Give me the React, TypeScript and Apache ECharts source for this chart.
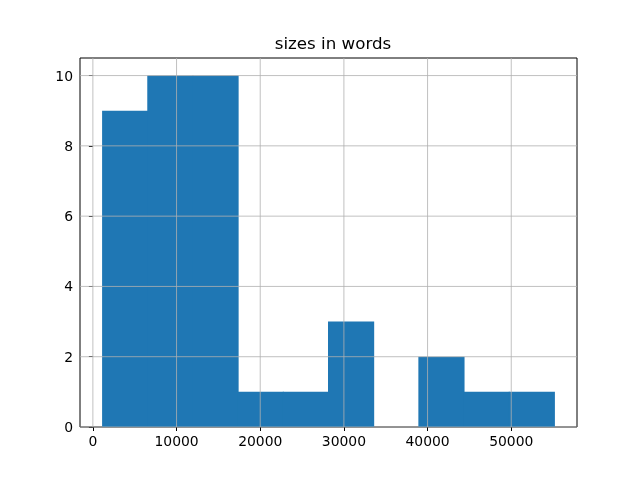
import React, { useEffect, useRef } from "react";
import * as echarts from "echarts";

const titleText = "sizes in words";
const binStart = 1160;
const binWidth = 5400;
const counts = [9, 10, 10, 1, 1, 3, 0, 2, 1, 1];
const xTicks = [0, 10000, 20000, 30000, 40000, 50000];
const yTicks = [0, 2, 4, 6, 8, 10];
const xMin = -1540;
const xMax = 57860;
const yMin = 0;
const yMax = 10.5;

export default function App() {
  const ref = useRef<HTMLDivElement>(null);
  useEffect(() => {
    if (!ref.current) return;
    const chart = echarts.init(ref.current, undefined, { renderer: "svg" });
    const barData = counts.map((c, i) => [binStart + i * binWidth, binStart + (i + 1) * binWidth, c]);
    const font = "DejaVu Sans";
    chart.setOption({
      animation: false,
      title: {
        text: titleText,
        left: 328,
        top: 29,
        textAlign: "center",
        textStyle: { fontFamily: font, fontSize: 16.7, fontWeight: "normal", color: "#000" },
      },
      grid: {
        left: 80,
        right: 63,
        top: 58,
        bottom: 53,
        show: true,
        borderColor: "#000",
        borderWidth: 1,
        backgroundColor: "transparent",
      },
      xAxis: {
        type: "value",
        min: xMin,
        max: xMax,
        axisLine: { show: false },
        splitLine: { show: false },
        axisTick: { show: true, length: 4, customValues: xTicks, lineStyle: { color: "#000", width: 1 } },
        axisLabel: {
          customValues: xTicks,
          margin: 7,
          fontFamily: font,
          fontSize: 13.9,
          color: "#000",
          formatter: (v: number) => String(v),
        },
      },
      yAxis: {
        type: "value",
        min: yMin,
        max: yMax,
        axisLine: { show: false },
        splitLine: { show: false },
        axisTick: { show: true, length: 4, customValues: yTicks, lineStyle: { color: "#000", width: 1 } },
        axisLabel: {
          customValues: yTicks,
          margin: 7,
          fontFamily: font,
          fontSize: 13.9,
          color: "#000",
          formatter: (v: number) => String(v),
        },
      },
      series: [
        {
          type: "custom",
          z: 2,
          silent: true,
          data: barData,
          encode: { x: [0, 1], y: 2 },
          renderItem: (params: any, api: any) => {
            const x0 = api.value(0);
            const x1 = api.value(1);
            const h = api.value(2);
            if (!h) return null;
            const p0 = api.coord([x0, h]);
            const p1 = api.coord([x1, 0]);
            return {
              type: "rect",
              shape: { x: p0[0] - 0.5, y: p0[1], width: p1[0] - p0[0] + 1, height: p1[1] - p0[1] },
              style: { fill: "#1f77b4", stroke: null },
            };
          },
        },
        {
          type: "custom",
          z: 5,
          silent: true,
          data: xTicks.map((v) => [v]),
          encode: { x: 0 },
          renderItem: (params: any, api: any) => {
            const a = api.coord([api.value(0), yMin]);
            const b = api.coord([api.value(0), yMax]);
            return {
              type: "line",
              shape: { x1: a[0], y1: a[1], x2: b[0], y2: b[1] },
              style: { stroke: "#b0b0b0", lineWidth: 0.8 },
            };
          },
        },
        {
          type: "custom",
          z: 5,
          silent: true,
          data: yTicks.map((v) => [xMin, v]),
          encode: { y: 1 },
          renderItem: (params: any, api: any) => {
            const a = api.coord([xMin, api.value(1)]);
            const b = api.coord([xMax, api.value(1)]);
            return {
              type: "line",
              shape: { x1: a[0], y1: a[1], x2: b[0], y2: b[1] },
              style: { stroke: "#b0b0b0", lineWidth: 0.8 },
            };
          },
        },
      ],
    });
    return () => chart.dispose();
  }, []);
  return <div ref={ref} style={{ width: 640, height: 480, position: "fixed", left: 0, top: 0 }} />;
}
